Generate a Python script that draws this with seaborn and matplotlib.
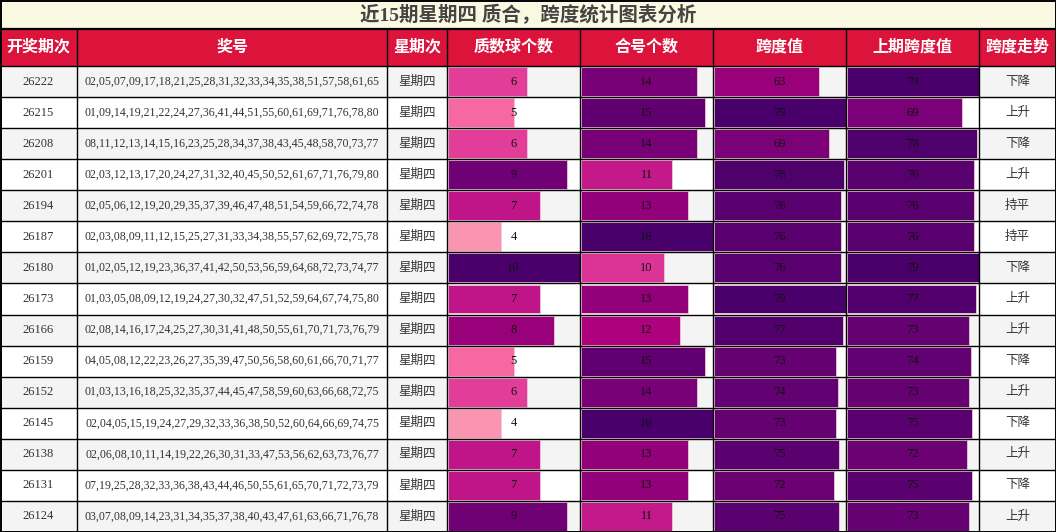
import numpy as np
import pandas as pd
import matplotlib
matplotlib.use("Agg")
import matplotlib.pyplot as plt
import seaborn as sns

sns.set_theme(style="white")
plt.rcParams['font.family'] = ['Liberation Serif', 'Noto Sans CJK SC']

title = "近15期星期四 质合，跨度统计图表分析"
headers = ["开奖期次", "奖号", "星期次", "质数球个数", "合号个数", "跨度值", "上期跨度值", "跨度走势"]

periods = ["26222", "26215", "26208", "26201", "26194", "26187", "26180", "26173",
           "26166", "26159", "26152", "26145", "26138", "26131", "26124"]
numbers = [
    "02,05,07,09,17,18,21,25,28,31,32,33,34,35,38,51,57,58,61,65",
    "01,09,14,19,21,22,24,27,36,41,44,51,55,60,61,69,71,76,78,80",
    "08,11,12,13,14,15,16,23,25,28,34,37,38,43,45,48,58,70,73,77",
    "02,03,12,13,17,20,24,27,31,32,40,45,50,52,61,67,71,76,79,80",
    "02,05,06,12,19,20,29,35,37,39,46,47,48,51,54,59,66,72,74,78",
    "02,03,08,09,11,12,15,25,27,31,33,34,38,55,57,62,69,72,75,78",
    "01,02,05,12,19,23,36,37,41,42,50,53,56,59,64,68,72,73,74,77",
    "01,03,05,08,09,12,19,24,27,30,32,47,51,52,59,64,67,74,75,80",
    "02,08,14,16,17,24,25,27,30,31,41,48,50,55,61,70,71,73,76,79",
    "04,05,08,12,22,23,26,27,35,39,47,50,56,58,60,61,66,70,71,77",
    "01,03,13,16,18,25,32,35,37,44,45,47,58,59,60,63,66,68,72,75",
    "02,04,05,15,19,24,27,29,32,33,36,38,50,52,60,64,66,69,74,75",
    "02,06,08,10,11,14,19,22,26,30,31,33,47,53,56,62,63,73,76,77",
    "07,19,25,28,32,33,36,38,43,44,46,50,55,61,65,70,71,72,73,79",
    "03,07,08,09,14,23,31,34,35,37,38,40,43,47,61,63,66,71,76,78",
]
weekday = ["星期四"] * 15
prime_cnt = [6, 5, 6, 9, 7, 4, 10, 7, 8, 5, 6, 4, 7, 7, 9]
composite_cnt = [14, 15, 14, 11, 13, 16, 10, 13, 12, 15, 14, 16, 13, 13, 11]
span = [63, 79, 69, 78, 76, 76, 76, 79, 77, 73, 74, 73, 75, 72, 75]
prev_span = [79, 69, 78, 76, 76, 76, 79, 77, 73, 74, 73, 75, 72, 75, 73]
trend = ["下降", "上升", "下降", "上升", "持平", "持平", "下降", "上升",
         "上升", "下降", "上升", "下降", "上升", "下降", "上升"]

W, H = 1056, 532
col_edges = [0, 77, 387, 447, 580, 713, 846, 979, 1056]
title_h, head_bottom = 29, 66
n = len(periods)
row_h = (H - head_bottom) / n

fig = plt.figure(figsize=(W / 100, H / 100), dpi=100)

# background layer
bg = fig.add_axes([0, 0, 1, 1], zorder=0)
bg.set_xlim(0, W)
bg.set_ylim(H, 0)
bg.axis("off")
bg.add_patch(plt.Rectangle((0, 0), W, title_h, color="#faf8e0", lw=0))
bg.add_patch(plt.Rectangle((0, title_h), W, head_bottom - title_h, color="#dc143c", lw=0))
for i in range(n):
    c = "#f4f4f4" if i % 2 == 0 else "white"
    bg.add_patch(plt.Rectangle((0, head_bottom + i * row_h), W, row_h, color=c, lw=0))

# data bars
bar_cols = [(3, prime_cnt), (4, composite_cnt), (5, span), (6, prev_span)]
for ci, vals in bar_cols:
    x0, x1 = col_edges[ci], col_edges[ci + 1]
    ax = fig.add_axes([(x0 + 1) / W, 0, (x1 - x0 - 1) / W, (H - head_bottom) / H], zorder=1)
    vmax = max(vals)
    colors = [plt.cm.RdPu(v / vmax) for v in vals]
    df = pd.DataFrame({"period": periods, "value": vals})
    sns.barplot(data=df, x="value", y="period", hue="period", order=periods,
                palette=colors, saturation=1, legend=False, orient="h", width=0.93,
                linewidth=0.6, edgecolor="#f2c6dc", ax=ax)
    ax.set_xlim(0, vmax)
    ax.set_ylim(n - 0.5, -0.5)
    ax.axis("off")
    ax.patch.set_alpha(0)

# overlay: grid lines and text
ov = fig.add_axes([0, 0, 1, 1], zorder=2)
ov.set_xlim(0, W)
ov.set_ylim(H, 0)
ov.axis("off")
ov.patch.set_alpha(0)

for x in col_edges[1:-1]:
    ov.plot([x, x], [title_h, H], color="black", lw=1.0)
for i in range(1, n):
    y = head_bottom + i * row_h
    ov.plot([0, W], [y, y], color="black", lw=1.0)
ov.plot([0, W], [head_bottom, head_bottom], color="black", lw=1.0)
ov.plot([0, W], [title_h, title_h], color="black", lw=1.6)
ov.add_patch(plt.Rectangle((0.5, 0.5), W - 1, H - 1, fill=False, ec="black", lw=1.4))

ov.text(W / 2, title_h / 2 + 1, title, ha="center", va="center",
        fontsize=14, fontweight="bold", color="#444444")
for j, h in enumerate(headers):
    cx = (col_edges[j] + col_edges[j + 1]) / 2
    ov.text(cx, (title_h + head_bottom) / 2, h, ha="center", va="center",
            fontsize=11.5, fontweight="bold", color="white")

columns = [periods, numbers, weekday, prime_cnt, composite_cnt, span, prev_span, trend]
for j, col in enumerate(columns):
    cx = (col_edges[j] + col_edges[j + 1]) / 2
    size = 8.6 if j == 1 else 9
    for i, v in enumerate(col):
        cy = head_bottom + (i + 0.5) * row_h
        color = "#111111" if j in (3, 4, 5, 6) else "#333333"
        ov.text(cx, cy, str(v), ha="center", va="center", fontsize=size, color=color)

fig.savefig("out.png", dpi=100)
